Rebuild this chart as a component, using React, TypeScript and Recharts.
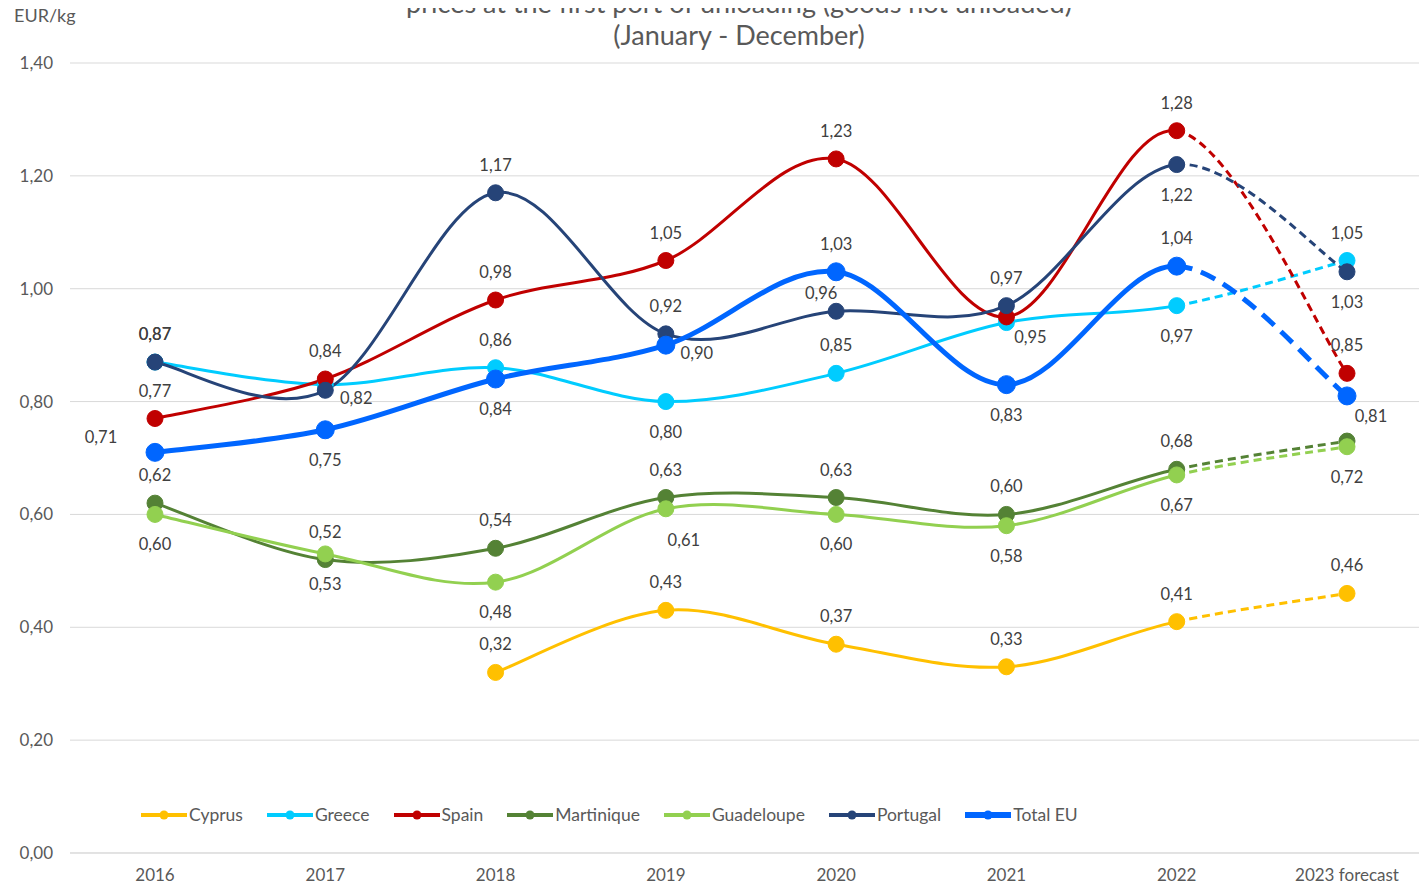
import { LineChart, Line, XAxis, YAxis, CartesianGrid, LabelList } from "recharts";

const YEARS = ["2016", "2017", "2018", "2019", "2020", "2021", "2022", "2023 forecast"];
const Y_TICKS = [0, 0.2, 0.4, 0.6, 0.8, 1.0, 1.2, 1.4];

const CYPRUS = [null, null, 0.32, 0.43, 0.37, 0.33, 0.41, 0.46];
const GREECE = [0.87, 0.83, 0.86, 0.8, 0.85, 0.94, 0.97, 1.05];
const SPAIN = [0.77, 0.84, 0.98, 1.05, 1.23, 0.95, 1.28, 0.85];
const MARTINIQUE = [0.62, 0.52, 0.54, 0.63, 0.63, 0.6, 0.68, 0.73];
const GUADELOUPE = [0.6, 0.53, 0.48, 0.61, 0.6, 0.58, 0.67, 0.72];
const PORTUGAL = [0.87, 0.82, 1.17, 0.92, 0.96, 0.97, 1.22, 1.03];
const TOTAL_EU = [0.71, 0.75, 0.84, 0.9, 1.03, 0.83, 1.04, 0.81];

const FONT = "Lato, 'Noto Sans', sans-serif";
const TEXT = "#595959";

// label placement per point (a = above, b = below, ...), "" = hidden
const OFFSETS: Record<string, [number, number]> = {
  a: [0, -28],
  b: [0, 30],
  l: [-54, -15],
  r: [31, 8],
  br: [24, 20],
  bb: [18, 31],
  al: [-15, -18],
};

const series = [
  { key: "Cyprus", values: CYPRUS, color: "#FFC000", width: 3, r: 8, dash: "8 5", labels: ["", "", "a", "a", "a", "a", "a", "a"] },
  { key: "Greece", values: GREECE, color: "#00CCFF", width: 3, r: 8, dash: "8 5", labels: ["a", "", "a", "b", "a", "", "b", "a"] },
  { key: "Spain", values: SPAIN, color: "#C00000", width: 3, r: 8, dash: "8 5", labels: ["a", "a", "a", "a", "a", "br", "a", "a"] },
  { key: "Martinique", values: MARTINIQUE, color: "#548235", width: 3, r: 8, dash: "8 5", labels: ["a", "a", "a", "a", "a", "a", "a", ""] },
  { key: "Guadeloupe", values: GUADELOUPE, color: "#92D050", width: 3, r: 8, dash: "8 5", labels: ["b", "b", "b", "bb", "b", "b", "b", "b"] },
  { key: "Portugal", values: PORTUGAL, color: "#264478", width: 3, r: 8, dash: "8 5", labels: ["a", "r", "a", "a", "al", "a", "b", "b"] },
  { key: "Total EU", values: TOTAL_EU, color: "#0066FF", width: 5, r: 9, dash: "16 9", labels: ["l", "b", "b", "r", "a", "b", "a", "br"] },
];

const data = YEARS.map((year, i) => {
  const row: Record<string, any> = { year };
  series.forEach((s) => (row[s.key] = s.values[i]));
  return row;
});

const fmt = (v: number) => v.toFixed(2).replace(".", ",");

// Catmull-Rom style smoothing (like Excel's smoothed lines).
// "head" draws all segments but the last, "tail" only the last one.
const smoothCurve = (mode: "head" | "tail") => (ctx: any) => {
  let pts: number[][] = [];
  return {
    areaStart() {},
    areaEnd() {},
    lineStart() {
      pts = [];
    },
    point(x: number, y: number) {
      pts.push([+x, +y]);
    },
    lineEnd() {
      const n = pts.length;
      const s0 = mode === "tail" ? n - 2 : 0;
      const s1 = mode === "tail" ? n - 1 : n - 2;
      if (s0 < 0 || s1 <= s0) return;
      ctx.moveTo(pts[s0][0], pts[s0][1]);
      for (let i = s0; i < s1; i++) {
        const p0 = pts[Math.max(i - 1, 0)];
        const p1 = pts[i];
        const p2 = pts[i + 1];
        const p3 = pts[Math.min(i + 2, n - 1)];
        const k = 1 / 6;
        ctx.bezierCurveTo(
          p1[0] + k * (p2[0] - p0[0]),
          p1[1] + k * (p2[1] - p0[1]),
          p2[0] - k * (p3[0] - p1[0]),
          p2[1] - k * (p3[1] - p1[1]),
          p2[0],
          p2[1]
        );
      }
    },
  };
};

const headCurve = smoothCurve("head");
const tailCurve = smoothCurve("tail");

const makeLabel = (placement: string[]) => (props: any) => {
  const { x, y, value, index } = props;
  const p = placement[index];
  if (!p || value == null) return null;
  const [dx, dy] = OFFSETS[p];
  return (
    <text x={x + dx} y={y + dy} textAnchor="middle" dominantBaseline="central" fontSize={16.5} fill="#404040" fontFamily={FONT}>
      {fmt(value)}
    </text>
  );
};

const ChartLegend = () => (
  <div
    style={{
      position: "absolute",
      top: 804,
      left: 141,
      display: "flex",
      alignItems: "center",
      fontFamily: FONT,
      fontSize: 17.5,
      color: TEXT,
    }}
  >
    {series.map((s) => (
      <div key={s.key} style={{ display: "flex", alignItems: "center", marginRight: 24 }}>
        <svg width={46} height={12} style={{ marginRight: 2 }}>
          <line x1={0} y1={6} x2={46} y2={6} stroke={s.color} strokeWidth={s.width + 1} />
          <circle cx={23} cy={6} r={4.5} fill={s.color} />
        </svg>
        <span>{s.key}</span>
      </div>
    ))}
  </div>
);

const App = () => {
  return (
    <div style={{ position: "relative", width: 1427, height: 889, overflow: "hidden", margin: -8, background: "#fff" }}>
      <div
        style={{
          position: "absolute",
          top: -13,
          left: 0,
          width: 1478,
          textAlign: "center",
          fontFamily: FONT,
          fontSize: 27,
          lineHeight: "32px",
          color: TEXT,
        }}
      >
        <div>prices at the first port of unloading (goods not unloaded)</div>
        <div>(January - December)</div>
      </div>
      <div style={{ position: "absolute", top: 4, left: 14, fontFamily: FONT, fontSize: 18, color: TEXT }}>EUR/kg</div>
      <div style={{ position: "absolute", top: 0, left: 0 }}>
        <LineChart width={1440} height={889} data={data} margin={{ top: 63, right: 8, left: 0, bottom: 0 }}>
          <CartesianGrid vertical={false} stroke="#d9d9d9" />
          <XAxis
            dataKey="year"
            padding={{ left: 85, right: 85 }}
            height={36}
            tickLine={false}
            axisLine={{ stroke: "#d9d9d9" }}
            tickMargin={10}
            tick={{ fill: TEXT, fontSize: 17, fontFamily: FONT }}
          />
          <YAxis
            width={70}
            domain={[0, 1.4]}
            ticks={Y_TICKS}
            tickFormatter={fmt}
            axisLine={false}
            tickLine={false}
            tickMargin={11}
            tick={{ fill: TEXT, fontSize: 17, fontFamily: FONT }}
          />
          {series.map((s) => [
            // dashed forecast segment (2022 -> 2023)
            <Line
              key={s.key + "-forecast"}
              dataKey={s.key}
              type={tailCurve as any}
              stroke={s.color}
              strokeWidth={s.width}
              strokeDasharray={s.dash}
              dot={false}
              activeDot={false}
              isAnimationActive={false}
            />,
            <Line
              key={s.key}
              dataKey={s.key}
              type={headCurve as any}
              stroke={s.color}
              strokeWidth={s.width}
              dot={{ r: s.r, fill: s.color, stroke: s.color, strokeWidth: 1 }}
              activeDot={false}
              isAnimationActive={false}
            >
              <LabelList dataKey={s.key} content={makeLabel(s.labels)} />
            </Line>,
          ])}
        </LineChart>
      </div>
      <ChartLegend />
    </div>
  );
};

export default App;
